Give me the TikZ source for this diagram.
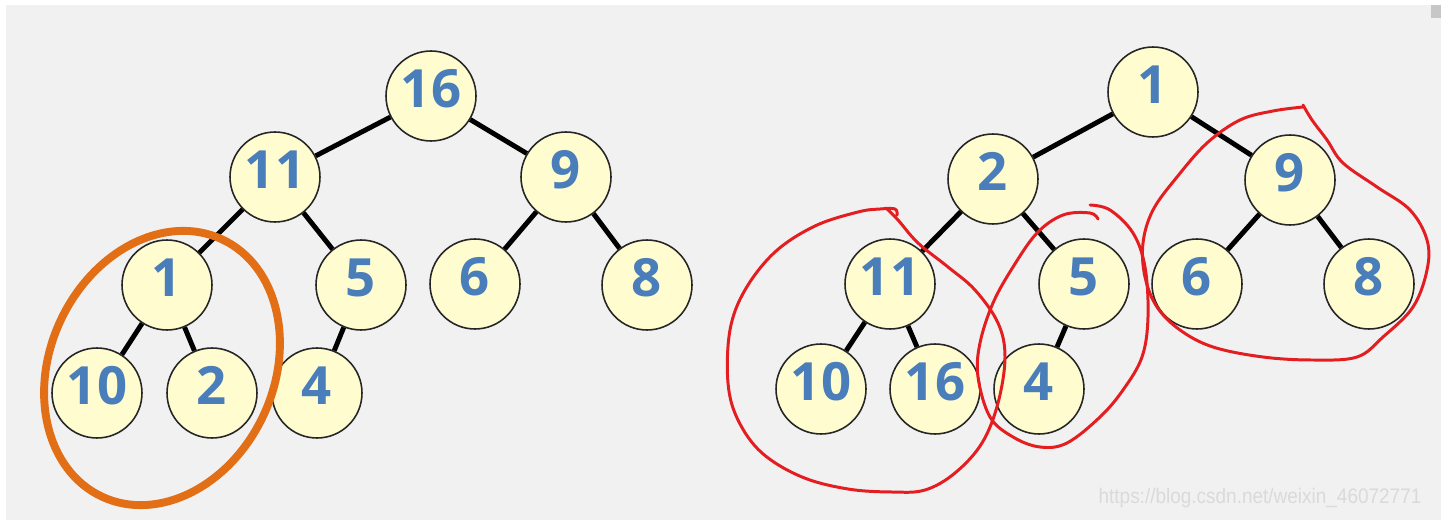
\documentclass[tikz,border=0pt]{standalone}
\usepackage{fontspec}
\usepackage{tikz}
\usetikzlibrary{calc}
\newfontfamily\keyfont{Open Sans}
\newfontfamily\markfont{Liberation Sans}
\definecolor{pagegray}{RGB}{241, 241, 242}
\definecolor{keyfill}{RGB}{255, 253, 208}
\definecolor{keyblue}{RGB}{74, 126, 187}
\definecolor{heaporange}{RGB}{226, 110, 22}
\definecolor{penred}{RGB}{228, 30, 32}
\definecolor{markgray}{RGB}{218, 218, 220}

\begin{document}
\begin{tikzpicture}[x=0.02cm, y=-0.02cm,
    keynode/.style={circle, draw=black!85, line width=0.9pt, fill=keyfill,
                    minimum size=1.8cm, inner sep=0pt, text=keyblue,
                    font=\keyfont\bfseries\fontsize{30}{36}\selectfont,
                    text height=0.76cm, text depth=0.28cm},
    edge/.style={line width=2.8pt, black},
    penloop/.style={penred, line width=1.7pt, line cap=round, line join=round}]
    % page
    \useasboundingbox (0,0) rectangle (1450,520);
    \fill[white] (0,0) rectangle (1450,520);
    \fill[pagegray] (6,5) rectangle (1441,520);
    \fill[black!22] (1431,5) rectangle (1441,18);

    % Left heap
    \node[keynode] (l16) at (431, 96) {16};
    \node[keynode] (l11) at (275,177) {11};
    \node[keynode] (l9)  at (566,177) {9};
    \node[keynode] (l1)  at (167,285) {1};
    \node[keynode] (l5)  at (361,285) {5};
    \node[keynode] (l6)  at (475,284) {6};
    \node[keynode] (l8)  at (647,285) {8};
    \node[keynode] (l10) at ( 97,393) {10};
    \node[keynode] (l2)  at (212,393) {2};
    \node[keynode] (l4)  at (317,393) {4};
    \draw[edge] (l16) -- (l11);
    \draw[edge] (l16) -- (l9);
    \draw[edge] (l11) -- (l1);
    \draw[edge] (l11) -- (l5);
    \draw[edge] (l9)  -- (l6);
    \draw[edge] (l9)  -- (l8);
    \draw[edge] (l1)  -- (l10);
    \draw[edge] (l1)  -- (l2);
    \draw[edge] (l5)  -- (l4);
    % subtree to fix
    \draw[heaporange, line width=4.5pt, rotate around={-25:(162,368)}]
      (162,368) ellipse [x radius=2.24cm, y radius=2.84cm];

    % Right heap
    \node[keynode] (r1)  at (1153, 92) {1};
    \node[keynode] (r2)  at ( 993,179) {2};
    \node[keynode] (r9)  at (1290,180) {9};
    \node[keynode] (r11) at ( 890,284) {11};
    \node[keynode] (r5)  at (1084,284) {5};
    \node[keynode] (r6)  at (1197,284) {6};
    \node[keynode] (r8)  at (1369,284) {8};
    \node[keynode] (r10) at ( 821,389) {10};
    \node[keynode] (r16) at ( 935,389) {16};
    \node[keynode] (r4)  at (1039,389) {4};
    \draw[edge] (r1)  -- (r2);
    \draw[edge] (r1)  -- (r9);
    \draw[edge] (r2)  -- (r11);
    \draw[edge] (r2)  -- (r5);
    \draw[edge] (r9)  -- (r6);
    \draw[edge] (r9)  -- (r8);
    \draw[edge] (r11) -- (r10);
    \draw[edge] (r11) -- (r16);
    \draw[edge] (r5)  -- (r4);
    % hand-drawn rings round the subtrees
    \draw[penloop] plot[smooth, tension=0.6] coordinates {
      (897,215) (895,209) (880,209) (858,212) (815,226) (775,252) (745,290)
      (730,330) (728,383) (738,420) (762,453) (802,477) (848,489) (892,492)
      (925,490) (955,473) (982,443) (998,403) (1005,357) (998,323) (975,290)
      (948,267) (918,243) (898,220) (886,208)};
    \draw[penloop] plot[smooth, tension=0.6] coordinates {
      (1090,205) (1110,210) (1133,233) (1145,267) (1148,317) (1142,357)
      (1123,390) (1100,417) (1067,443) (1040,447) (1013,437) (990,417)
      (978,377) (980,343) (993,303) (1013,267) (1037,233) (1063,215)
      (1090,213) (1098,219)};
    \draw[penloop] plot[smooth, tension=0.6] coordinates {
      (1303,107) (1273,111) (1240,120) (1207,143) (1177,177) (1153,210)
      (1143,243) (1145,277) (1157,307) (1180,330) (1213,347) (1263,357)
      (1313,360) (1357,357) (1383,337) (1413,307) (1427,270) (1427,240)
      (1410,210) (1377,187) (1343,163) (1327,140) (1312,120) (1303,105)};

    % watermark
    \node[markgray, font=\markfont\fontsize{12}{14}\selectfont, xscale=0.9] (mark)
      at (1260,498) {https://blog.csdn.net/weixin\_46072771};
  \end{tikzpicture}
\end{document}
